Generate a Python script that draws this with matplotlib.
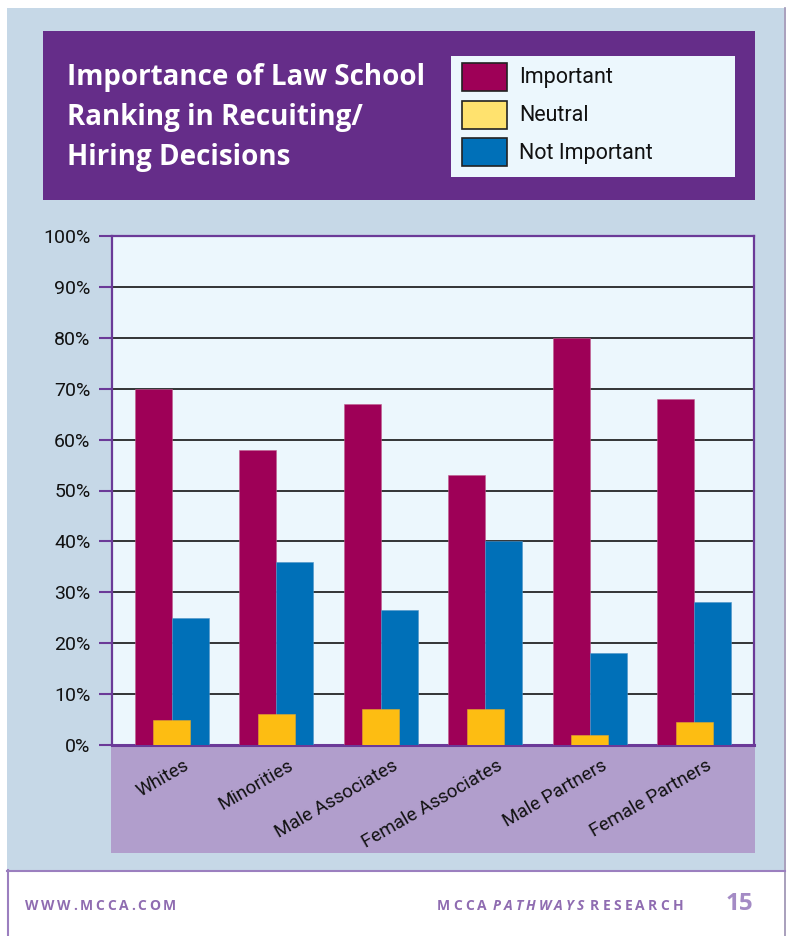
import matplotlib
matplotlib.use("Agg")
import matplotlib.pyplot as plt
from matplotlib.patches import Rectangle
import numpy as np

categories = ["Whites", "Minorities", "Male Associates", "Female Associates",
              "Male Partners", "Female Partners"]
important = [70, 58, 67, 53, 80, 68]
neutral = [5, 6, 7, 7, 2, 4.5]
not_important = [25, 36, 26.5, 40, 18, 28]
series_names = ["Important", "Neutral", "Not Important"]
yticks = [0, 10, 20, 30, 40, 50, 60, 70, 80, 90, 100]
title_lines = ["Importance of Law School", "Ranking in Recuiting/", "Hiring Decisions"]

C_IMP = "#9e0057"
C_NEU = "#fdbd12"
C_NEU_LEG = "#ffe26e"
C_NOT = "#0070b8"
C_PANEL = "#c6d8e7"
C_HEAD = "#652d89"
C_PLOT = "#ecf7fd"
C_LAV = "#b19ecc"
C_SPINE = "#6b3a98"
C_FOOT = "#8f6cb1"

W, H = 791, 936
fig = plt.figure(figsize=(W / 100, H / 100), dpi=100)
fig.patch.set_facecolor("white")
renderer = fig.canvas.get_renderer()

FONT = ["Roboto", "DejaVu Sans"]
FONT_B = ["Open Sans", "DejaVu Sans"]

# background canvas in pixel coords
bg = fig.add_axes([0, 0, 1, 1])
bg.set_xlim(0, W)
bg.set_ylim(H, 0)
bg.axis("off")


def spaced(x0, y, s, track, **kw):
    """draw text char by char with extra tracking (pixels); returns end x"""
    x = x0
    for ch in s:
        if ch == " ":
            x += kw.get("fontsize", 10) * 0.35 + track
            continue
        t = bg.text(x, y, ch, ha="left", va="center", **kw)
        bb = t.get_window_extent(renderer=renderer)
        x += bb.width + track
    return x - track


def spaced_width(s, track, **kw):
    x = 0
    for ch in s:
        if ch == " ":
            x += kw.get("fontsize", 10) * 0.35 + track
            continue
        t = bg.text(0, 0, ch, **kw)
        x += t.get_window_extent(renderer=renderer).width + track
        t.remove()
    return x - track


bg.add_patch(Rectangle((7, 8), 777, 862, facecolor=C_PANEL, edgecolor="none"))
bg.plot([785, 785], [8, 936], color="#9a8fb0", lw=1.2)
bg.plot([7, 785], [870.5, 870.5], color="#9b7fbf", lw=1.5)
bg.plot([7.5, 7.5], [870, 936], color="#9b7fbf", lw=1.5)
bg.add_patch(Rectangle((43, 31), 712, 169, facecolor=C_HEAD, edgecolor="none"))
for k, line in enumerate(title_lines):
    bg.text(67, 78 + k * 40, line, color="white", fontsize=20, fontweight="bold",
            family=FONT_B, va="center", ha="left")
bg.add_patch(Rectangle((451, 56), 284, 121, facecolor=C_PLOT, edgecolor="none"))
leg_cols = [C_IMP, C_NEU_LEG, C_NOT]
for k, (name, col) in enumerate(zip(series_names, leg_cols)):
    y0 = 63 + k * 37.7
    bg.add_patch(Rectangle((462, y0), 45, 28, facecolor=col, edgecolor="#222222", lw=1.2))
    bg.text(519, y0 + 15, name, fontsize=15.5, family=FONT, va="center", ha="left", color="#111111")
bg.add_patch(Rectangle((111, 745), 644, 108, facecolor=C_LAV, edgecolor="none"))

fkw = dict(color=C_FOOT, fontsize=10, fontweight="bold", family=FONT_B)
spaced(25, 906, "WWW.MCCA.COM", 2.7, **fkw)
w_r = spaced_width("RESEARCH", 3.2, **fkw)
spaced(683 - w_r, 906, "RESEARCH", 3.2, **fkw)
spaced(437, 906, "MCCA", 3.2, **fkw)
spaced(493, 906, "PATHWAYS", 3.0, style="italic", **fkw)
bg.text(753, 904, "15", color="#a48bc5", fontsize=17.5, fontweight="bold",
        family=FONT_B, va="center", ha="right")

# main chart axes
L, R, T, B = 112, 754, 236, 745
ax = fig.add_axes([L / W, 1 - B / H, (R - L) / W, (B - T) / H])
ax.set_facecolor(C_PLOT)
x = np.arange(len(categories))
bw = 0.355
ax.bar(x - bw / 2, important, bw, color=C_IMP, edgecolor="#c0608f", lw=0.4, zorder=3)
ax.bar(x + bw / 2, not_important, bw, color=C_NOT, edgecolor="#4f93c8", lw=0.4, zorder=3)
ax.bar(x, neutral, bw, color=C_NEU, edgecolor="#e0a830", lw=0.4, zorder=4)
ax.set_ylim(0, 100)
ax.set_xlim(-0.574, 5.574)
ax.set_yticks(yticks)
ax.set_yticklabels([f"{v}%" for v in yticks], fontsize=14, family=FONT, color="#111111")
ax.tick_params(axis="y", length=9.4, width=1.5, color=C_SPINE, pad=6)
ax.set_xticks([])
ax.grid(axis="y", color="black", lw=1.1, zorder=1)
ax.set_axisbelow(True)
for s in ax.spines.values():
    s.set_color(C_SPINE)
    s.set_linewidth(1.6)
ax.spines["bottom"].set_linewidth(2.2)

for i, name in enumerate(categories):
    ax.annotate(name, xy=(i, 0), xycoords="data", xytext=(16, -19), textcoords="offset pixels",
                rotation=30, rotation_mode="anchor", ha="right", va="center",
                fontsize=13.5, family=FONT, color="#111111", annotation_clip=False)

fig.savefig("out.png", dpi=100)
